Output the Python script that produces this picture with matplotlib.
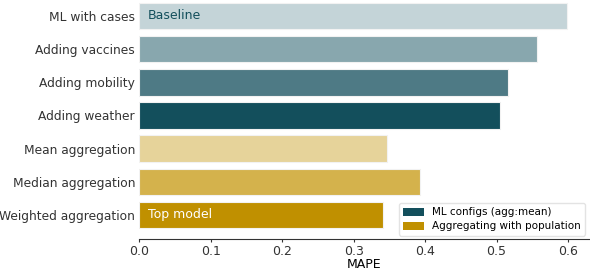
import matplotlib.pyplot as plt
from matplotlib.patches import Patch

# data
labels = ['ML with cases', 'Adding vaccines', 'Adding mobility', 'Adding weather',
          'Mean aggregation', 'Median aggregation', 'Weighted aggregation']
mape = [0.599, 0.557, 0.516, 0.505, 0.346, 0.393, 0.341]
colors = ['#c4d4d8', '#88a7ae', '#4e7a85', '#134f5c',
          '#e6d39a', '#d4b24c', '#c09000']
legend_labels = ['ML configs (agg:mean)', 'Aggregating with population']
legend_colors = ['#134f5c', '#c09000']


def main():
    plt.rcParams['font.family'] = 'DejaVu Sans'
    fig, ax = plt.subplots(figsize=(5.9, 2.7), dpi=100)
    fig.subplots_adjust(left=0.236, right=0.998, top=1.0, bottom=0.114)

    ypos = list(range(len(labels)))
    ax.barh(ypos, mape, height=0.8, color=colors, edgecolor='#f2f2f2', linewidth=0.8)
    ax.set_yticks(ypos)
    ax.set_yticklabels(labels, fontsize=8.8, color='#333333')
    ax.set_ylim(6.73, -0.48)
    ax.set_xlim(0, 0.629)
    ax.set_xticks([0.0, 0.1, 0.2, 0.3, 0.4, 0.5, 0.6])
    ax.tick_params(axis='y', length=0, pad=3)
    ax.tick_params(axis='x', labelsize=9, colors='#333333', labelcolor='#333333',
                   length=2.5, width=0.8, pad=2)
    ax.set_xlabel('MAPE', fontsize=9, labelpad=0)

    for side in ['top', 'right', 'left']:
        ax.spines[side].set_visible(False)
    ax.spines['bottom'].set_color('#333333')

    ax.text(0.012, 0, 'Baseline', va='center', ha='left', fontsize=9, color='#134f5c')
    ax.text(0.012, 6, 'Top model', va='center', ha='left', fontsize=9, color='white')

    handles = [Patch(facecolor=c, label=l) for c, l in zip(legend_colors, legend_labels)]
    ax.legend(handles=handles, loc='lower right', fontsize=7.5, frameon=True,
              handlelength=2.0, handleheight=0.8, borderaxespad=0.35,
              labelspacing=0.4, fancybox=True, edgecolor='#dddddd')

    plt.savefig('out.png', dpi=100)


if __name__ == '__main__':
    main()
